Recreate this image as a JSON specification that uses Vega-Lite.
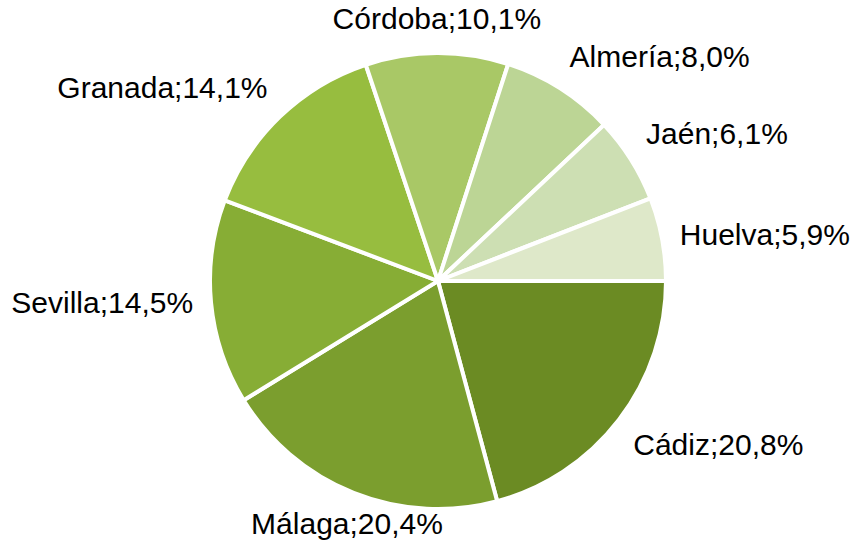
{
  "$schema": "https://vega.github.io/schema/vega-lite/v6.json",
  "autosize": {"type": "none"},
  "width": 838,
  "height": 520,
  "padding": {"left": 19, "top": 21, "right": 0, "bottom": 0},
  "background": "white",
  "config": {"view": {"stroke": null}},
  "data": {
    "values": [
      {"orden": 1, "provincia": "Cádiz", "valor": 20.8, "etiqueta": "Cádiz;20,8%"},
      {"orden": 2, "provincia": "Málaga", "valor": 20.4, "etiqueta": "Málaga;20,4%"},
      {"orden": 3, "provincia": "Sevilla", "valor": 14.5, "etiqueta": "Sevilla;14,5%"},
      {"orden": 4, "provincia": "Granada", "valor": 14.1, "etiqueta": "Granada;14,1%"},
      {"orden": 5, "provincia": "Córdoba", "valor": 10.1, "etiqueta": "Córdoba;10,1%"},
      {"orden": 6, "provincia": "Almería", "valor": 8.0, "etiqueta": "Almería;8,0%"},
      {"orden": 7, "provincia": "Jaén", "valor": 6.1, "etiqueta": "Jaén;6,1%"},
      {"orden": 8, "provincia": "Huelva", "valor": 5.9, "etiqueta": "Huelva;5,9%"}
    ]
  },
  "encoding": {
    "theta": {"field": "valor", "type": "quantitative", "stack": true, "scale": {"range": [1.5707963, 7.8539816]}},
    "order": {"field": "orden", "type": "quantitative"}
  },
  "layer": [
    {
      "mark": {"type": "arc", "outerRadius": 228, "stroke": "white", "strokeWidth": 4},
      "encoding": {
        "color": {
          "field": "provincia",
          "type": "nominal",
          "sort": null,
          "scale": {
            "domain": ["Cádiz", "Málaga", "Sevilla", "Granada", "Córdoba", "Almería", "Jaén", "Huelva"],
            "range": ["#6b8b23", "#7b9e2e", "#87ad35", "#97bd3f", "#a9c866", "#bcd595", "#cddfb3", "#dee8c9"]
          },
          "legend": null
        }
      }
    },
    {
      "mark": {
        "type": "text",
        "radius": 246,
        "font": "Liberation Sans",
        "fontSize": 30,
        "color": "black",
        "align": {"expr": "(datum.provincia == 'Sevilla' || datum.provincia == 'Granada') ? 'right' : ((datum.provincia == 'Córdoba' || datum.provincia == 'Málaga') ? 'center' : 'left')"},
        "baseline": {"expr": "(datum.provincia == 'Sevilla' || datum.provincia == 'Huelva') ? 'middle' : ((datum.provincia == 'Cádiz' || datum.provincia == 'Málaga') ? 'top' : 'bottom')"}
      },
      "encoding": {
        "text": {"field": "etiqueta", "type": "nominal"}
      }
    }
  ]
}
